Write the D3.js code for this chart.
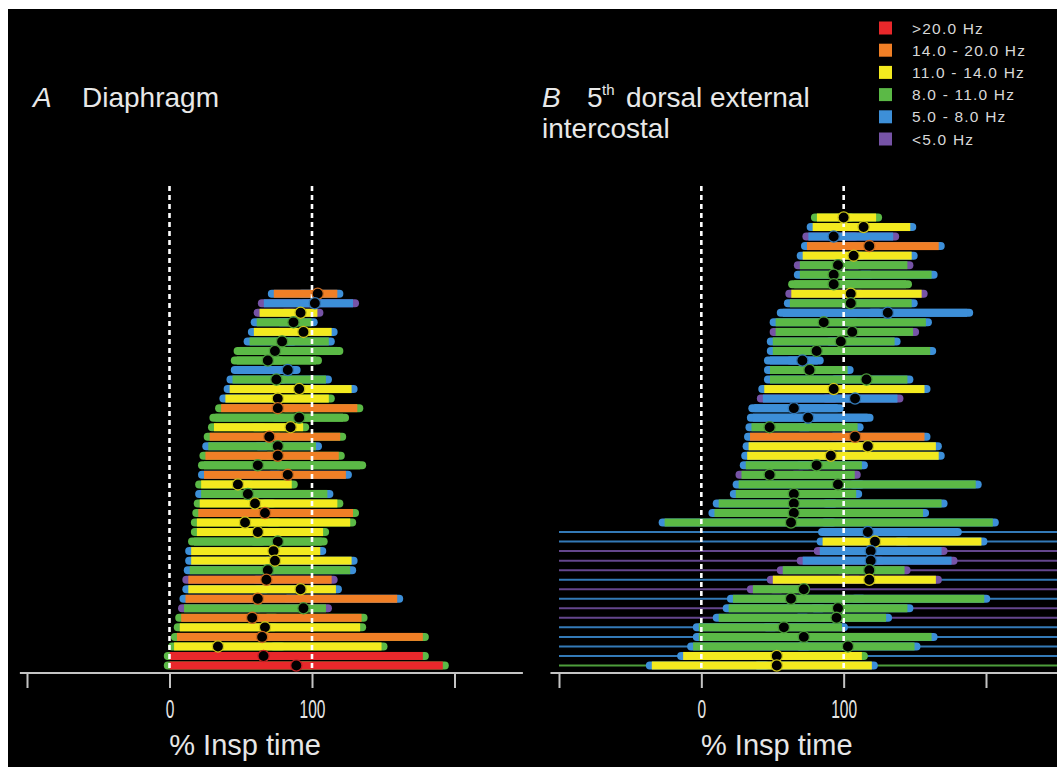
<!DOCTYPE html>
<html><head><meta charset="utf-8">
<script src="https://cdn.jsdelivr.net/npm/d3@7"></script>
<style>html,body{margin:0;padding:0;background:#fff;} svg{display:block;font-family:"Liberation Sans",Arial,sans-serif;}</style>
</head><body><svg id="c" width="1057" height="767"></svg>
<script>
// Frequency bands (legend) and colours
const bandLabels = [">20.0 Hz", "14.0 - 20.0 Hz", "11.0 - 14.0 Hz", "8.0 - 11.0 Hz", "5.0 - 8.0 Hz", "<5.0 Hz"];
const bandColors = ["#e8282b", "#f07f26", "#f3ea1f", "#5bb946", "#3d8fd8", "#7653a6"];

// Axis
const tickValues = [-100, 0, 100, 200];
const tickLabels = ["", "0", "100", ""];
const axisTitle = "% Insp time";

// Panel A: Diaphragm (rows top to bottom), values in % insp time; colours are band indices
const aStart = [69,62,59,57,55,52,45,43,43,40,38,35,32,28,27,24,23,21,20,20,18,18,17,16,15,15,13,11,11,10,9,9,7,6,4,3,1,-1,-4,-4];
const aEnd   = [122,133,108,104,118,116,122,107,92,114,132,116,136,126,98,124,107,123,138,128,90,115,122,133,131,112,111,110,132,131,118,121,164,114,139,138,182,153,182,196];
const aPeak  = [104,102,92,87,94,79,74,69,83,75,91,76,76,91,85,70,76,76,62,83,48,55,60,67,53,62,76,73,74,69,68,92,62,94,58,67,65,34,66,89];
const aMain  = [1,4,2,3,2,3,3,3,4,3,2,2,1,3,2,1,3,1,3,1,2,3,2,1,2,2,3,2,2,3,1,2,1,3,1,2,1,2,0,0];
const aLeft  = [4,5,5,4,4,4,3,3,4,4,4,4,3,3,3,3,4,3,3,4,3,4,3,3,3,3,3,4,4,4,5,4,4,5,3,3,3,3,3,3];
const aRight = [4,5,5,4,4,4,3,3,4,4,4,3,3,3,3,3,4,3,3,4,3,4,3,3,3,3,3,4,4,4,5,4,4,5,3,3,3,3,3,3];

// Panel B: 5th dorsal external intercostal
const bStart = [77,74,71,70,67,65,65,61,59,58,53,48,48,46,46,44,44,44,40,39,33,32,31,30,29,28,27,24,22,20,8,5,-30,82,81,79,67,53,46,32,18,15,8,-6,-6,-10,-17,-39];
const bEnd   = [127,151,139,171,152,149,166,148,159,152,191,162,153,140,165,86,107,149,161,142,100,121,114,161,169,171,117,112,197,113,173,160,209,183,201,173,180,147,169,74,203,149,134,103,166,154,117,124];
const bPeak  = [100,114,93,118,107,96,93,93,105,105,131,86,106,98,81,71,76,116,93,108,65,75,48,108,117,91,81,48,96,65,65,65,63,117,122,119,119,118,118,72,63,96,95,58,72,103,53,53];
const bMain  = [2,2,4,1,2,3,3,3,2,3,4,3,3,3,3,4,3,3,2,4,4,4,3,1,2,2,3,3,3,3,3,3,3,4,2,4,4,3,2,3,3,3,3,3,3,3,2,2];
const bLeft  = [3,4,5,4,4,5,4,3,5,4,4,4,5,4,4,4,4,4,4,5,4,4,4,4,4,4,4,5,4,4,4,4,4,4,4,5,5,5,5,5,4,4,4,4,4,4,4,4];
const bRight = [3,4,5,4,4,5,4,3,5,4,4,4,5,4,4,4,4,4,4,5,4,4,4,4,4,4,4,5,4,4,4,4,4,4,4,5,5,5,5,5,4,4,4,4,4,4,3,4];
// background (tonic) firing lines, null = none
const bTonic = [null,null,null,null,null,null,null,null,null,null,null,null,null,null,null,null,null,null,null,null,null,null,null,null,null,null,null,null,null,null,null,null,null,4,4,5,5,5,4,5,4,5,5,4,4,4,4,3];

const svg = d3.select("#c");
svg.append("rect").attr("x", 8).attr("y", 9).attr("width", 1049).attr("height", 758).attr("fill", "#000");

const yRow = d3.scaleLinear().domain([0, 47]).range([665.5, 217.5]);
const xA = d3.scaleLinear().domain([-100, 200]).range([27, 454.5]);
const xB = d3.scaleLinear().domain([-100, 200]).range([559, 986]);

const H = 8, CAP = 6;

function panel(x, start, end, peak, main, left, right, tonic, domainExt) {
  const g = svg.append("g");
  const n = start.length;
  const rows = d3.range(n).map(j => ({
    s: start[j], e: end[j], p: peak[j], m: main[j], l: left[j], r: right[j],
    t: tonic ? tonic[j] : null, cy: yRow(n - 1 - j)
  }));
  // tonic thin lines
  g.selectAll("line.tonic").data(rows.filter(d => d.t !== null)).join("line")
    .attr("x1", x(-100)).attr("x2", 1060)
    .attr("y1", d => d.cy).attr("y2", d => d.cy)
    .attr("stroke", d => bandColors[d.t]).attr("stroke-width", 2).attr("opacity", 0.85);
  const bars = g.selectAll("g.bar").data(rows).join("g");
  bars.append("rect")
    .attr("x", d => x(d.s)).attr("y", d => d.cy - H / 2)
    .attr("width", d => (x(d.e) - x(d.s)) / 2 + H).attr("height", H).attr("rx", H / 2)
    .attr("fill", d => bandColors[d.l]);
  bars.append("rect")
    .attr("x", d => (x(d.s) + x(d.e)) / 2 - H).attr("y", d => d.cy - H / 2)
    .attr("width", d => x(d.e) - ((x(d.s) + x(d.e)) / 2 - H)).attr("height", H).attr("rx", H / 2)
    .attr("fill", d => bandColors[d.r]);
  bars.append("rect")
    .attr("x", d => x(d.s) + CAP).attr("y", d => d.cy - H / 2)
    .attr("width", d => Math.max(0, x(d.e) - x(d.s) - 2 * CAP)).attr("height", H)
    .attr("fill", d => bandColors[d.m]);
  // dashed reference lines
  [0, 100].forEach(v => {
    g.append("line").attr("x1", x(v)).attr("x2", x(v)).attr("y1", 186).attr("y2", 670)
      .attr("stroke", "#fff").attr("stroke-width", 2.6).attr("stroke-dasharray", "5,4");
  });
  // peak dots
  g.selectAll("circle").data(rows).join("circle")
    .attr("cx", d => x(d.p)).attr("cy", d => d.cy).attr("r", 5.6)
    .attr("fill", "#000")
    .attr("stroke", d => d3.color(bandColors[d.m]).darker(0.5)).attr("stroke-width", 1.3);
  // axis
  const ax = g.append("g").attr("transform", "translate(0,673)")
    .call(d3.axisBottom(x).tickValues(tickValues).tickSize(15).tickSizeOuter(0).tickPadding(12)
      .tickFormat((d, i) => tickLabels[i]));
  ax.select(".domain").remove();
  ax.append("line").attr("x1", x(domainExt[0])).attr("x2", x(domainExt[1]))
    .attr("stroke", "#c4c4c4").attr("stroke-width", 2);
  ax.selectAll(".tick line").attr("stroke", "#c4c4c4").attr("stroke-width", 2);
  ax.selectAll(".tick text").attr("fill", "#e6e6e6").attr("font-size", 25)
    .attr("font-family", "Liberation Sans, Arial, sans-serif")
    .attr("transform", "scale(0.62,1)");
  g.append("text").attr("x", x(53)).attr("y", 755).attr("text-anchor", "middle")
    .attr("fill", "#e6e6e6").attr("font-size", 29).text(axisTitle);
  return g;
}

panel(xA, aStart, aEnd, aPeak, aMain, aLeft, aRight, null, [-105, 248]);
panel(xB, bStart, bEnd, bPeak, bMain, bLeft, bRight, bTonic, [-106, 260]);

// Titles
const tcol = "#e8e8e8";
svg.append("text").attr("x", 33).attr("y", 107).attr("font-size", 28).attr("font-style", "italic").attr("fill", tcol).text("A");
svg.append("text").attr("x", 82).attr("y", 107).attr("font-size", 28).attr("fill", tcol).text("Diaphragm");
svg.append("text").attr("x", 542).attr("y", 107).attr("font-size", 28).attr("font-style", "italic").attr("fill", tcol).text("B");
svg.append("text").attr("x", 587).attr("y", 107).attr("font-size", 28).attr("fill", tcol).text("5");
svg.append("text").attr("x", 602).attr("y", 95).attr("font-size", 15).attr("fill", tcol).text("th");
svg.append("text").attr("x", 626).attr("y", 107).attr("font-size", 28).attr("fill", tcol).text("dorsal external");
svg.append("text").attr("x", 542).attr("y", 138).attr("font-size", 28).attr("fill", tcol).text("intercostal");

// Legend
const leg = svg.append("g");
const ly = d3.scalePoint().domain(bandLabels).range([28, 139]);
leg.selectAll("rect").data(bandLabels).join("rect")
  .attr("x", 879).attr("y", d => ly(d) - 6.5).attr("width", 13).attr("height", 13)
  .attr("fill", (d, i) => bandColors[i]);
leg.selectAll("text").data(bandLabels).join("text")
  .attr("x", 912).attr("y", d => ly(d) + 5.5).attr("font-size", 15.5).attr("letter-spacing", 1.2)
  .attr("fill", "#d8d8d8")
  .text(d => d);
</script></body></html>
